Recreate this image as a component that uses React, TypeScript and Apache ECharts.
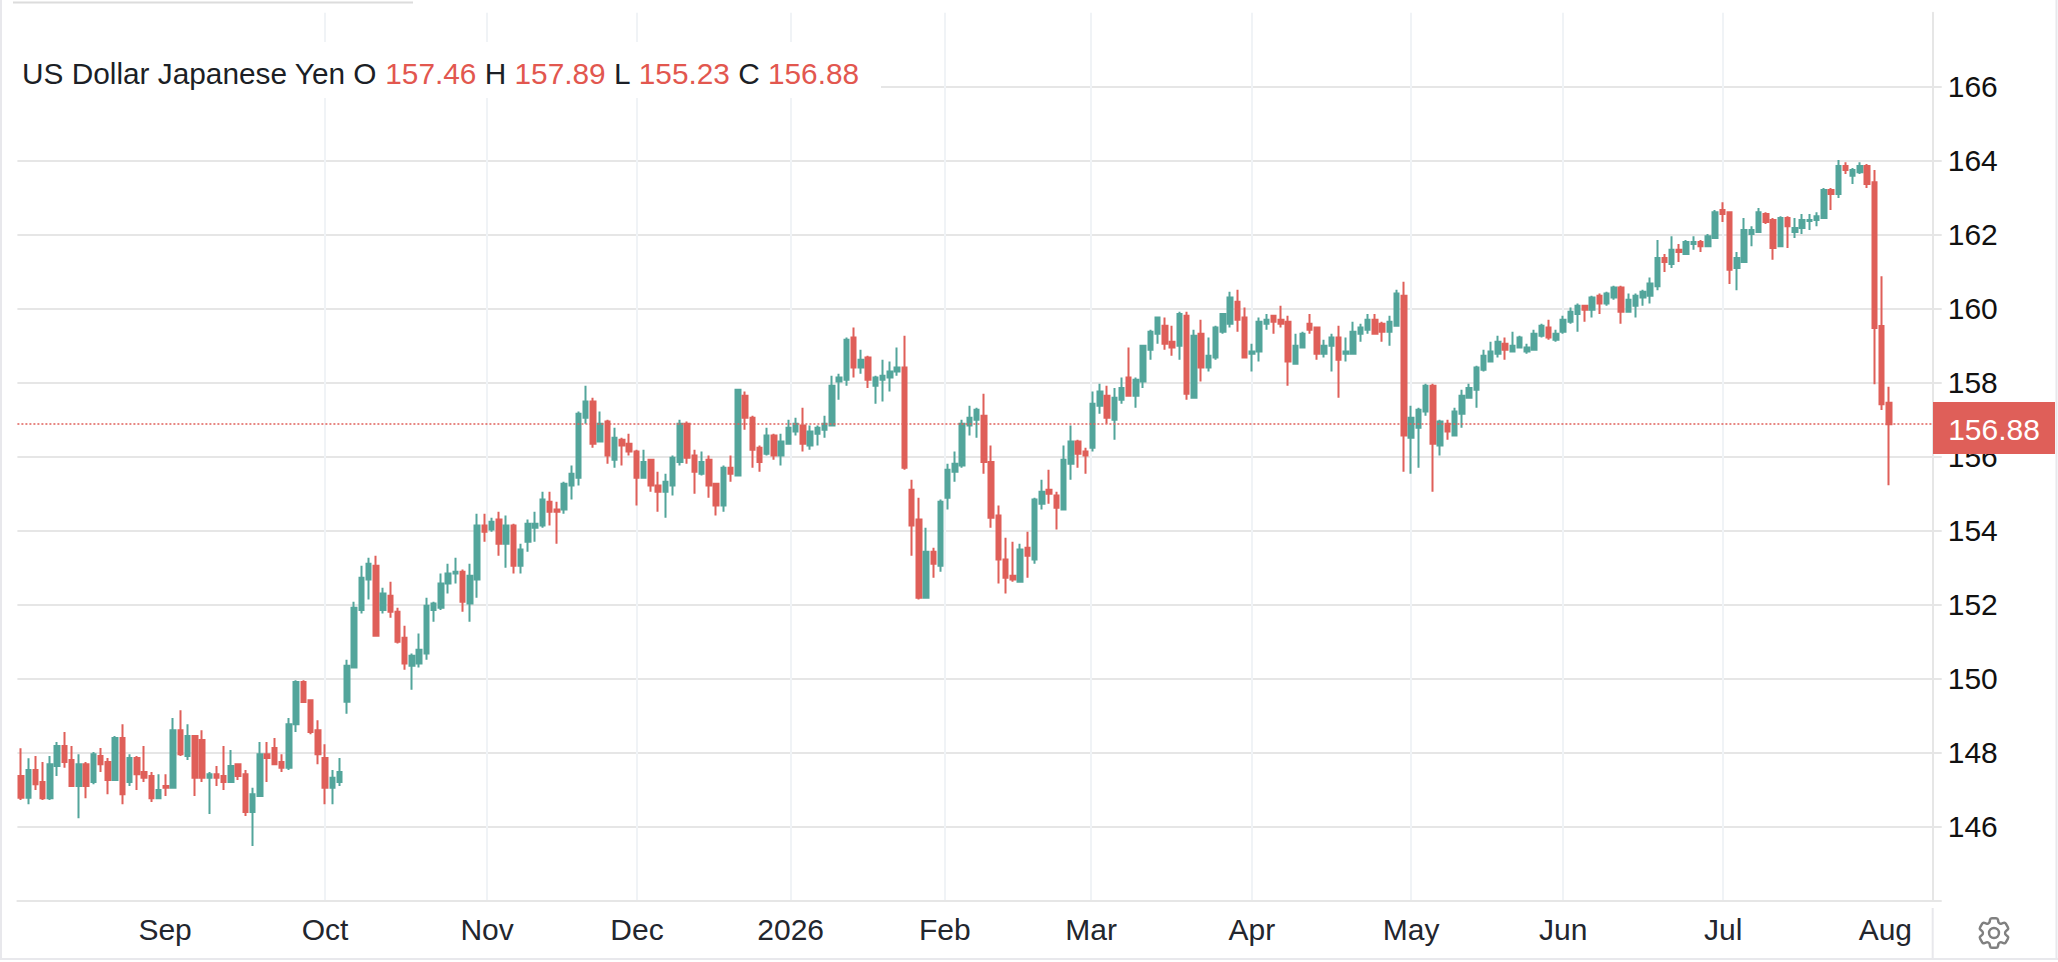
import React, { useEffect, useRef } from "react";
import * as echarts from "echarts";

// each row: [open, close, low, high]
const aug2025 = [
  [147.37,146.78,146.72,148.12],[146.78,147.53,146.61,147.85],[147.53,147.15,146.99,147.91],[147.21,146.77,146.72,147.75],
  [146.77,147.69,146.72,147.91],[147.64,148.18,147.37,148.29],[148.18,147.75,147.59,148.56],[147.80,147.10,147.10,148.18],
  [147.10,147.69,146.23,147.96],[147.69,147.10,146.77,147.75],[147.21,147.96,147.15,148.02],[147.91,147.69,147.48,148.13],
  [147.75,147.26,146.88,147.86],[147.26,148.40,147.26,148.45],[148.40,146.88,146.61,148.77],[147.21,147.86,147.10,147.96],
  [147.86,147.42,146.99,147.91],[147.48,147.32,147.21,148.18],[147.37,146.77,146.67,147.48],[146.77,146.99,146.77,147.42],
];
const sep2025 = [
  [147.10,147.05,146.83,147.42],[147.05,148.61,147.05,148.94],[148.61,147.96,147.91,149.15],[147.91,148.45,147.80,148.77],
  [148.45,147.32,146.83,148.45],[148.34,147.32,147.21,148.61],[147.32,147.42,146.34,147.48],[147.42,147.32,147.10,147.64],
  [147.37,147.21,146.99,148.18],[147.21,147.64,147.21,148.07],[147.69,147.37,147.26,147.69],[147.42,146.40,146.29,147.53],
  [146.40,146.88,145.48,147.05],[146.83,147.96,146.83,148.29],[147.96,147.86,147.21,148.29],[148.13,147.69,147.69,148.40],
  [147.75,147.59,147.48,147.96],[147.59,148.77,147.53,148.94],[148.77,149.91,148.56,149.96],[149.91,149.37,149.37,149.96],
  [149.42,148.56,148.50,149.42],[148.61,147.96,147.69,148.88],
];
const oct2025 = [
  [147.86,147.05,146.61,148.23],[147.05,147.32,146.61,147.53],[147.21,147.48,147.10,147.86],[149.38,150.35,149.05,150.51],
  [150.30,151.92,150.30,152.08],[151.86,152.73,151.76,153.05],[152.68,153.11,152.14,153.27],[153.05,151.16,151.16,153.32],
  [151.86,152.30,151.76,152.46],[152.24,151.81,151.65,152.62],[151.81,151.00,150.95,151.92],[151.11,150.41,150.24,151.43],
  [150.35,150.62,149.70,150.68],[150.41,150.78,150.30,151.22],[150.68,151.97,150.51,152.19],[151.86,152.03,151.54,152.08],
  [151.92,152.57,151.86,152.84],[152.57,152.84,152.30,153.11],[152.84,152.89,152.57,153.27],[152.89,152.08,151.81,152.95],
  [152.03,152.78,151.54,153.11],[152.68,154.14,152.19,154.46],
];
const nov2025 = [
  [154.14,153.97,153.70,154.46],[154.03,154.24,153.97,154.35],[154.30,153.65,153.32,154.51],[153.65,154.14,153.00,154.41],
  [154.14,153.05,152.84,154.19],[153.05,153.49,152.84,153.65],[153.70,154.19,153.43,154.30],[154.08,154.19,153.70,154.51],
  [154.14,154.84,154.08,155.05],[154.78,154.51,154.14,155.05],[154.57,154.51,153.65,154.78],[154.57,155.27,154.46,155.32],
  [155.22,155.54,154.84,155.76],[155.43,157.16,155.22,157.22],[157.05,157.49,156.89,157.92],[157.49,156.35,156.24,157.59],
  [156.41,156.89,156.41,157.22],[156.95,156.03,155.81,157.00],[155.92,156.51,155.70,156.78],[156.46,156.30,155.76,156.51],
  [156.35,156.14,156.03,156.62],
];
const dec2025 = [
  [156.14,155.43,154.68,156.19],[155.43,155.86,155.43,156.19],[155.92,155.22,155.05,155.92],[155.22,155.05,154.51,155.59],
  [155.05,155.32,154.35,155.54],[155.22,155.97,154.95,156.03],[155.86,156.89,155.76,157.00],[156.89,155.97,155.81,156.95],
  [156.03,155.59,155.00,156.19],[155.54,155.86,155.49,156.14],[155.92,155.22,154.89,156.03],[155.27,154.68,154.41,155.27],
  [154.68,155.70,154.51,155.76],[155.70,155.54,155.32,156.03],[155.49,157.81,155.49,157.81],[157.65,157.05,156.73,157.76],
  [157.05,156.19,155.70,157.11],[156.24,155.86,155.59,156.30],[156.08,156.57,156.03,156.78],[156.57,156.03,155.92,156.62],
  [156.03,156.41,155.76,156.62],
];
const jan2026 = [
  [156.35,156.78,156.35,157.00],[156.68,156.89,156.57,157.05],[156.84,156.35,156.14,157.32],[156.30,156.68,156.19,156.84],
  [156.62,156.78,156.30,156.84],[156.73,156.89,156.51,157.11],[156.84,157.92,156.84,158.19],[158.03,158.14,157.54,158.24],
  [158.08,159.16,157.92,159.22],[159.22,158.41,158.14,159.49],[158.41,158.62,158.24,158.89],[158.68,158.08,157.86,158.73],
  [157.92,158.14,157.43,158.19],[158.08,158.19,157.49,158.62],[158.14,158.30,157.76,158.57],[158.30,158.41,158.19,158.95],
  [158.41,155.70,155.65,159.27],[155.11,154.14,153.32,155.38],[154.30,152.19,152.14,154.89],[152.19,153.43,152.19,154.08],
  [153.43,153.11,152.73,153.54],
];
const feb2026 = [
  [153.05,154.78,152.89,154.84],[154.89,155.65,154.57,155.81],[155.59,155.81,155.32,156.14],[155.76,156.89,155.70,157.00],
  [156.84,157.05,156.57,157.38],[157.00,157.27,156.51,157.32],[157.11,155.86,155.54,157.70],[155.86,154.35,154.08,156.30],
  [154.41,153.22,152.57,154.68],[153.22,152.73,152.30,153.81],[152.78,152.68,152.62,153.70],[152.62,153.49,152.62,153.65],
  [153.54,153.32,152.73,153.97],[153.22,154.84,153.11,154.89],[154.73,155.05,154.57,155.38],[155.11,155.00,154.73,155.65],
  [154.95,154.62,154.03,155.05],[154.57,155.92,154.57,156.30],[155.81,156.41,155.38,156.84],[156.41,156.08,155.70,156.46],
  [156.14,156.03,155.54,156.24],
];
const mar2026 = [
  [156.24,157.43,156.14,157.76],[157.38,157.76,157.16,157.97],[157.65,157.05,156.89,157.92],[157.00,157.59,156.46,157.86],
  [157.54,157.86,157.43,158.14],[158.14,157.65,157.65,158.95],[157.65,158.08,157.32,158.14],[158.03,159.00,157.86,159.00],
  [158.89,159.38,158.62,159.43],[159.32,159.76,159.05,159.76],[159.54,159.05,158.89,159.76],[159.11,158.95,158.73,159.54],
  [159.00,159.86,158.62,159.92],[159.81,157.70,157.54,159.92],[157.59,159.27,157.59,159.43],[159.32,158.41,158.03,159.70],
  [158.41,158.73,158.30,159.22],[158.68,159.49,158.62,159.54],[159.38,159.86,159.32,159.86],[159.59,160.30,159.49,160.46],
  [160.19,159.70,159.38,160.51],[159.76,158.68,158.68,160.03],
];
const apr2026 = [
  [158.78,158.84,158.30,159.05],[158.84,159.65,158.57,159.76],[159.59,159.70,159.43,159.86],[159.81,159.65,159.32,159.81],
  [159.70,159.59,159.49,160.08],[159.65,158.57,157.92,159.81],[158.51,159.00,158.51,159.32],[158.95,159.32,158.95,159.38],
  [159.59,159.43,159.32,159.86],[159.49,158.78,158.62,159.49],[158.78,159.00,158.68,159.16],[159.00,159.22,158.30,159.32],
  [159.22,158.62,157.59,159.54],[158.78,158.84,158.57,159.22],[158.78,159.38,158.78,159.65],[159.32,159.49,159.11,159.59],
  [159.43,159.70,159.32,159.86],[159.70,159.32,159.32,159.86],[159.59,159.38,159.11,159.65],[159.38,159.65,159.00,159.81],
  [159.54,160.41,159.54,160.51],[160.35,156.57,155.59,160.73],
];
const may2026 = [
  [156.51,157.05,155.54,157.38],[156.78,157.27,155.70,157.32],[157.22,157.92,157.11,157.97],[157.92,156.35,155.05,157.97],
  [156.30,156.95,156.03,157.00],[156.89,156.68,156.46,157.00],[156.57,157.22,156.57,157.32],[157.16,157.65,156.78,157.81],
  [157.59,157.86,157.59,157.97],[157.81,158.41,157.32,158.46],[158.35,158.73,158.30,158.89],[158.57,158.84,158.57,159.11],
  [158.78,159.11,158.68,159.27],[159.05,158.89,158.62,159.22],[158.84,159.00,158.84,159.38],[158.95,159.22,158.95,159.27],
  [158.84,158.95,158.78,159.05],[158.89,159.32,158.89,159.43],[159.27,159.54,159.22,159.59],[159.49,159.22,159.16,159.70],
  [159.16,159.32,159.11,159.43],
];
const jun2026 = [
  [159.38,159.70,159.32,159.81],[159.65,159.92,159.59,160.03],[159.86,160.08,159.38,160.14],[160.08,159.97,159.65,160.08],
  [159.97,160.30,159.76,160.35],[160.35,160.14,159.86,160.41],[160.14,160.41,160.08,160.46],[160.30,160.57,160.24,160.62],
  [160.57,159.92,159.59,160.62],[159.92,160.24,159.92,160.41],[160.08,160.35,159.76,160.41],[160.30,160.46,160.08,160.51],
  [160.35,160.68,160.14,160.84],[160.61,161.37,160.50,161.86],[161.37,161.26,160.99,161.48],[161.21,161.59,161.10,161.96],
  [161.59,161.53,161.26,161.75],[161.48,161.80,161.48,161.86],[161.75,161.80,161.59,161.96],[161.80,161.69,161.53,161.86],
  [161.69,161.96,161.69,162.02],[161.91,162.61,161.91,162.67],
];
const jul2026 = [
  [162.67,162.56,162.34,162.88],[162.61,161.05,160.67,162.61],[161.10,161.37,160.50,161.53],[161.26,162.13,161.26,162.45],
  [162.02,162.13,161.69,162.23],[162.07,162.61,162.07,162.72],[162.56,162.34,162.29,162.61],[162.40,161.64,161.32,162.45],
  [161.69,162.45,161.69,162.50],[162.45,162.23,161.64,162.50],[162.07,162.18,161.91,162.45],[162.18,162.40,162.02,162.56],
  [162.37,162.40,162.13,162.56],[162.40,162.50,162.23,162.61],[162.45,163.21,162.45,163.26],[163.21,163.10,162.67,163.26],
  [163.10,163.86,162.99,164.02],[163.86,163.75,163.64,163.96],[163.59,163.75,163.37,163.80],[163.69,163.86,163.64,163.96],
  [163.86,163.37,163.26,163.91],[163.42,159.48,157.96,163.75],[159.53,157.42,157.26,160.88],
];
const aug2026 = [[157.46,156.88,155.23,157.89]];

const candles = [
  ...aug2025, ...sep2025, ...oct2025, ...nov2025, ...dec2025, ...jan2026,
  ...feb2026, ...mar2026, ...apr2026, ...may2026, ...jun2026, ...jul2026, ...aug2026,
];
const emptySessionsAfterLast = 6;
const sessions = Array.from({ length: candles.length + emptySessionsAfterLast }, (_, i) => String(i));

const monthLabels = ["Sep", "Oct", "Nov", "Dec", "2026", "Feb", "Mar", "Apr", "May", "Jun", "Jul", "Aug"];
const monthSessions = [19.9, 42, 64.37, 85.08, 106.3, 127.6, 147.8, 170, 192, 213, 235.1, 257.5];
const priceTicks = [144, 146, 148, 150, 152, 154, 156, 158, 160, 162, 164, 166];
const priceLabels = [146, 148, 150, 152, 154, 156, 158, 160, 162, 164, 166];

const title = "US Dollar Japanese Yen";
const ohlc = { O: "157.46", H: "157.89", L: "155.23", C: "156.88" };
const lastPrice = 156.88;

const RED = "#df5f59";
const TEAL = "#53a59b";
const FONT = '"Liberation Sans", Arial, sans-serif';
const GEAR =
  "M9.594 3.94c.09-.542.56-.94 1.11-.94h2.593c.55 0 1.02.398 1.11.94l.213 1.281c.063.374.313.686.645.87.074.04.147.083.22.127.325.196.72.257 1.075.124l1.217-.456a1.125 1.125 0 0 1 1.37.49l1.296 2.247a1.125 1.125 0 0 1-.26 1.431l-1.003.827c-.293.241-.438.613-.43.992a7.723 7.723 0 0 1 0 .255c-.008.378.137.75.43.991l1.004.827c.424.35.534.955.26 1.43l-1.298 2.247a1.125 1.125 0 0 1-1.369.491l-1.217-.456c-.355-.133-.75-.072-1.076.124a6.47 6.47 0 0 1-.22.128c-.331.183-.581.495-.644.869l-.213 1.281c-.09.543-.56.94-1.11.94h-2.594c-.55 0-1.019-.398-1.11-.94l-.213-1.281c-.062-.374-.312-.686-.644-.87a6.52 6.52 0 0 1-.22-.127c-.325-.196-.72-.257-1.076-.124l-1.217.456a1.125 1.125 0 0 1-1.369-.49l-1.297-2.247a1.125 1.125 0 0 1 .26-1.431l1.004-.827c.292-.24.437-.613.43-.991a6.932 6.932 0 0 1 0-.255c.007-.38-.138-.751-.43-.992l-1.004-.827a1.125 1.125 0 0 1-.26-1.43l1.297-2.247a1.125 1.125 0 0 1 1.37-.491l1.216.456c.356.133.751.072 1.076-.124.072-.044.146-.086.22-.128.332-.183.582-.495.644-.869l.214-1.28Z M15 12a3 3 0 1 1-6 0 3 3 0 0 1 6 0Z";

echarts.graphic.registerShape("gear", echarts.graphic.extendPath(GEAR, {}));

const frameLine = (x1: number, y1: number, x2: number, y2: number, stroke = "#e8e8ec") => ({
  type: "line",
  z: 200,
  silent: true,
  shape: { x1, y1, x2, y2 },
  style: { stroke, lineWidth: 2 },
});

export default function App() {
  const ref = useRef<HTMLDivElement>(null);
  useEffect(() => {
    const chart = echarts.init(ref.current!, null, { renderer: "svg" });
    chart.setOption({
      animation: false,
      backgroundColor: "#ffffff",
      grid: { left: 17.4, top: 12.7, width: 1918.6, height: 888, containLabel: false },
      xAxis: [
        {
          type: "category",
          data: sessions,
          show: false,
          boundaryGap: true,
        },
        {
          type: "value",
          position: "bottom",
          min: -0.5,
          max: sessions.length - 0.5,
          axisLine: { show: true, onZero: false, lineStyle: { color: "#e6e6e6", width: 2 } },
          axisTick: { show: false, customValues: monthSessions },
          splitLine: { show: true, showMinLine: false, showMaxLine: false, lineStyle: { color: "#f0f3f6", width: 2 } },
          axisLabel: {
            customValues: monthSessions,
            formatter: (v: number) => monthLabels[monthSessions.indexOf(v)] ?? "",
            color: "#23262e",
            fontFamily: FONT,
            fontSize: 30,
            margin: 14,
            hideOverlap: false,
          },
        },
      ],
      yAxis: {
        type: "value",
        position: "right",
        offset: -3.3,
        min: 144,
        max: 168,
        axisLine: { show: true, onZero: false, lineStyle: { color: "#e6e6e6", width: 2 } },
        axisTick: { show: true, length: 9, customValues: priceTicks, lineStyle: { color: "#e6e6e6", width: 2 } },
        splitLine: { show: true, lineStyle: { color: "#e6e6e6", width: 2 } },
        axisLabel: {
          customValues: priceLabels,
          color: "#111111",
          fontFamily: FONT,
          fontSize: 30,
          margin: 15,
          align: "left",
          padding: [0, 0, 4, 0],
        },
      },
      series: [
        {
          type: "candlestick",
          xAxisIndex: 0,
          data: candles,
          barWidth: 5,
          itemStyle: { color: TEAL, color0: RED, borderColor: TEAL, borderColor0: RED, borderWidth: 2 },
          markLine: {
            silent: true,
            symbol: "none",
            label: { show: false },
            data: [{ yAxis: lastPrice }],
            lineStyle: { color: RED, type: [2, 2], width: 1.5 },
          },
        },
      ],
      graphic: [
        { type: "rect", z: 100, silent: true, shape: { x: 3, y: 42, width: 878, height: 56 }, style: { fill: "#ffffff" } },
        {
          type: "text",
          z: 101,
          silent: true,
          x: 22,
          y: 73,
          style: {
            text: `{k|${title} O} {r|${ohlc.O}} {k|H} {r|${ohlc.H}} {k|L} {r|${ohlc.L}} {k|C} {r|${ohlc.C}}`,
            fontFamily: FONT,
            fontSize: 29.8,
            verticalAlign: "middle",
            rich: {
              k: { fill: "#1c1f26", fontFamily: FONT, fontSize: 29.8 },
              r: { fill: "#e2574f", fontFamily: FONT, fontSize: 29.8 },
            },
          },
        },
        { type: "rect", z: 150, silent: true, shape: { x: 1933, y: 402, width: 122, height: 52 }, style: { fill: RED } },
        {
          type: "text",
          z: 151,
          silent: true,
          x: 1994,
          y: 429,
          style: {
            text: lastPrice.toFixed(2),
            fill: "#ffffff",
            fontFamily: FONT,
            fontSize: 30,
            align: "center",
            verticalAlign: "middle",
          },
        },
        frameLine(1, 0, 1, 960),
        frameLine(0, 959, 2058, 959),
        frameLine(2056.5, 0, 2056.5, 960),
        frameLine(13, 2.5, 413, 2.5, "#dcdcdc"),
        frameLine(1932.7, 908, 1932.7, 958),
        {
          type: "gear",
          z: 200,
          silent: true,
          x: 1974.2,
          y: 913.2,
          scaleX: 1.65,
          scaleY: 1.65,
          style: { fill: "none", stroke: "#808080", lineWidth: 1.5 },
        },
      ],
    });
    return () => chart.dispose();
  }, []);
  return <div ref={ref} style={{ position: "fixed", left: 0, top: 0, width: 2058, height: 962 }} />;
}
